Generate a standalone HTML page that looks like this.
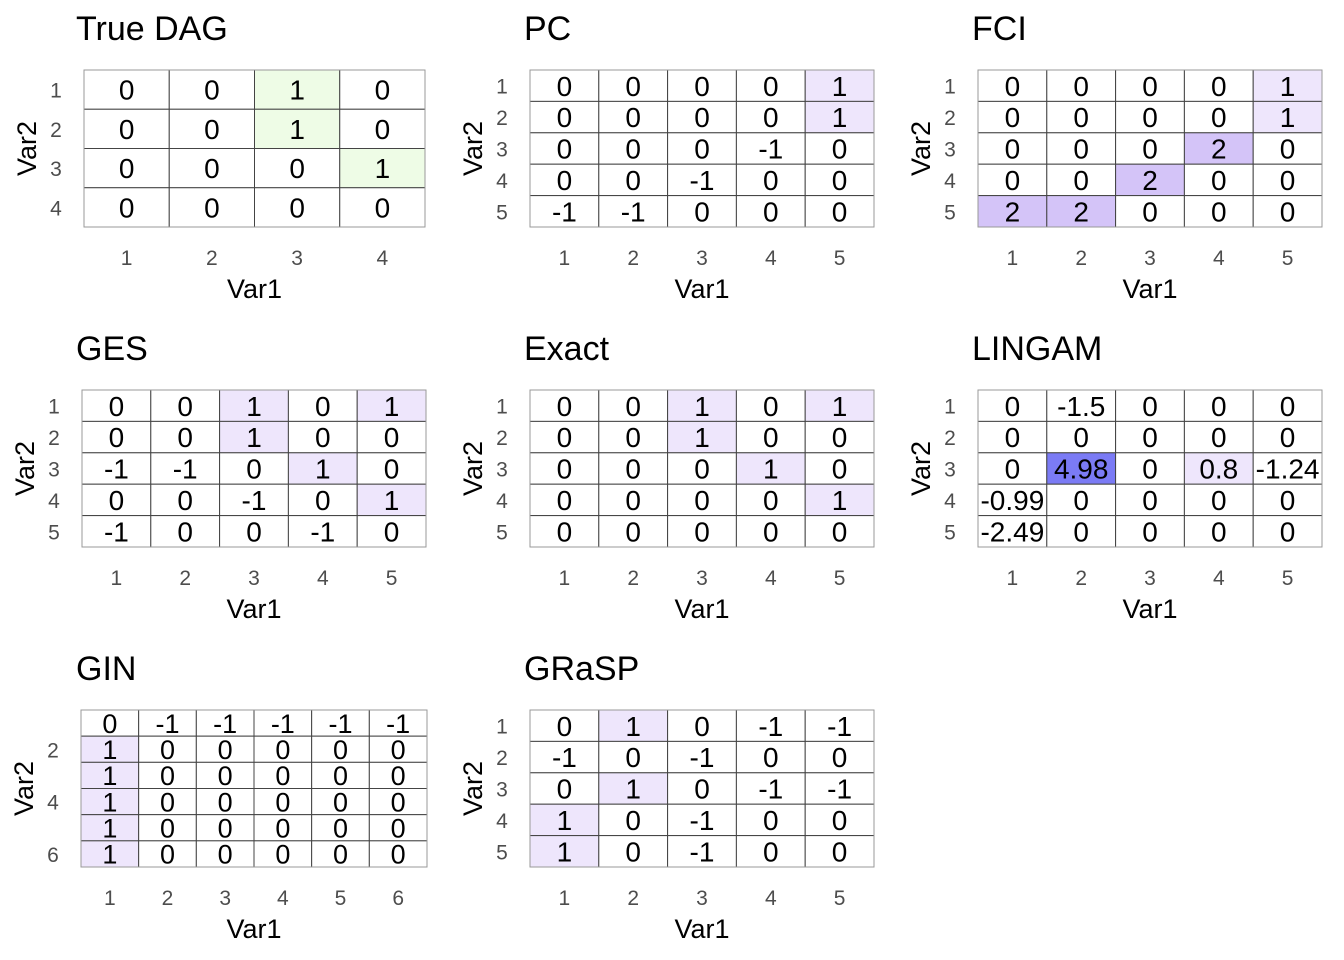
<!DOCTYPE html>
<html><head><meta charset="utf-8">
<style>
html,body{margin:0;padding:0;background:#fff;}
svg{display:block;font-family:"Liberation Sans",Arial,sans-serif;}
</style></head>
<body>
<svg id="chart" width="1344" height="960" viewBox="0 0 1344 960" xmlns="http://www.w3.org/2000/svg"></svg>
<script>
const titles = ["True DAG","PC","FCI","GES","Exact","LINGAM","GIN","GRaSP"];
const trueDag = [[0,0,1,0],[0,0,1,0],[0,0,0,1],[0,0,0,0]];
const pcVals = [[0,0,0,0,1],[0,0,0,0,1],[0,0,0,-1,0],[0,0,-1,0,0],[-1,-1,0,0,0]];
const fciVals = [[0,0,0,0,1],[0,0,0,0,1],[0,0,0,2,0],[0,0,2,0,0],[2,2,0,0,0]];
const gesVals = [[0,0,1,0,1],[0,0,1,0,0],[-1,-1,0,1,0],[0,0,-1,0,1],[-1,0,0,-1,0]];
const exactVals = [[0,0,1,0,1],[0,0,1,0,0],[0,0,0,1,0],[0,0,0,0,1],[0,0,0,0,0]];
const lingamVals = [[0,-1.5,0,0,0],[0,0,0,0,0],[0,4.98,0,0.8,-1.24],[-0.99,0,0,0,0],[-2.49,0,0,0,0]];
const ginVals = [[0,-1,-1,-1,-1,-1],[1,0,0,0,0,0],[1,0,0,0,0,0],[1,0,0,0,0,0],[1,0,0,0,0,0],[1,0,0,0,0,0]];
const graspVals = [[0,1,0,-1,-1],[-1,0,-1,0,0],[0,1,0,-1,-1],[1,0,-1,0,0],[1,0,-1,0,0]];

const NS="http://www.w3.org/2000/svg";
const svg=document.getElementById('chart');
function mk(tag,attrs,parent){const e=document.createElementNS(NS,tag);for(const k in attrs)e.setAttribute(k,attrs[k]);(parent||svg).appendChild(e);return e;}

const panels=[
 {t:0,d:trueDag,x0:84,x1:425,y0:70,y1:227,tx:76,ty:40,green:true},
 {t:1,d:pcVals,x0:530,x1:874,y0:70,y1:227,tx:524,ty:40},
 {t:2,d:fciVals,x0:978,x1:1322,y0:70,y1:227,tx:972,ty:40},
 {t:3,d:gesVals,x0:82,x1:426,y0:390,y1:547,tx:76,ty:360},
 {t:4,d:exactVals,x0:530,x1:874,y0:390,y1:547,tx:524,ty:360},
 {t:5,d:lingamVals,x0:978,x1:1322,y0:390,y1:547,tx:972,ty:360},
 {t:6,d:ginVals,x0:81,x1:427,y0:710,y1:867,tx:76,ty:680,ticksEvery:2},
 {t:7,d:graspVals,x0:530,x1:874,y0:710,y1:867,tx:524,ty:680}
];
function fill(v,green,max){
 if(v<=0) return "#ffffff";
 if(green) return "#eefce6";
 const r=v/max;
 if(max>2.5){ if(r>0.5) return "#7b7bf5"; return "#eee6fc"; }
 if(v>=2) return "#d4c4f8";
 return "#eee6fc";
}
panels.forEach((p,pi)=>{
 const g=mk('g',{});
 
 
 const n=p.d.length, cw=(p.x1-p.x0)/n, ch=(p.y1-p.y0)/n;
 const xs=c=>p.x0+c*cw, ys=r=>p.y0+r*ch;
 let max=0; p.d.forEach(r=>r.forEach(v=>{if(v>max)max=v;}));
 const t=mk('text',{x:p.tx,y:p.ty,'font-size':34,fill:'#000'},g);
 t.textContent=titles[p.t];
 
 
 const fs = n>=6?27:28;
 p.d.forEach((row,r)=>row.forEach((v,c)=>{
  const rc=mk('rect',{x:xs(c),y:ys(r),width:cw,height:ch,fill:fill(v,p.green,max),stroke:'#444','stroke-width':1},g);
  
  
  const tx=mk('text',{x:xs(c)+cw/2,y:ys(r)+ch/2+fs*0.36,'font-size':fs,'text-anchor':'middle',fill:'#000'},g);
  tx.textContent=String(v);
  
  
 }));
 mk('rect',{x:p.x0,y:p.y0,width:p.x1-p.x0,height:p.y1-p.y0,fill:'none',stroke:'#999','stroke-width':1},g);
 const step=p.ticksEvery||1;
 for(let i=0;i<n;i++){
  const xt=mk('text',{x:xs(i)+cw/2,y:p.y1+38,'font-size':21,'text-anchor':'middle',fill:'#4d4d4d'},g);
  xt.textContent=String(i+1);
  
  
  if((i+1)%step===0||step===1){
   const yt=mk('text',{x:p.x0-28,y:ys(i)+ch/2+8,'font-size':21,'text-anchor':'middle',fill:'#4d4d4d'},g);
   yt.textContent=String(i+1);
   
   
  }
 }
 const xa=mk('text',{x:(p.x0+p.x1)/2,y:p.y1+71,'font-size':27,'text-anchor':'middle',fill:'#000'},g);
 xa.textContent='Var1';
 
 
 const cy=(p.y0+p.y1)/2, ax=p.x0-48;
 const ya=mk('text',{x:ax,y:cy,'font-size':27,'text-anchor':'middle',fill:'#000',transform:`rotate(-90 ${ax} ${cy})`},g);
 ya.textContent='Var2';
 
 
});
</script>
</body></html>
